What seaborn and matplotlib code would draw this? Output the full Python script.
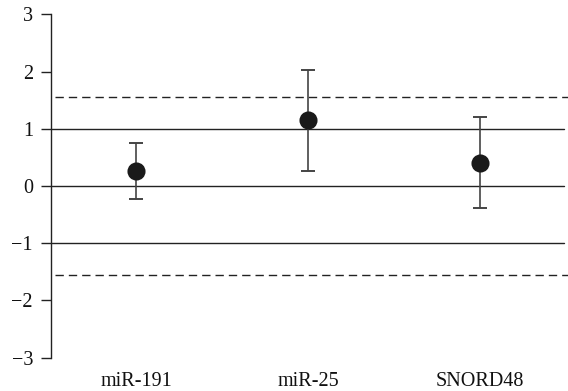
import numpy as np
import matplotlib
matplotlib.use("Agg")
import matplotlib.pyplot as plt
import seaborn as sns

categories = ["miR-191", "miR-25", "SNORD48"]
means = [0.27, 1.15, 0.41]
err_low = [0.49, 0.88, 0.79]
err_high = [0.49, 0.88, 0.80]
solid_levels = [-1, 0, 1]
dashed_levels = [-1.55, 1.55]
yticks = [-3, -2, -1, 0, 1, 2, 3]

sns.set_theme(style="white")
plt.rcParams["font.family"] = ["Liberation Serif", "DejaVu Serif"]

fig = plt.figure(figsize=(5.68, 3.91), dpi=100)
ax = fig.add_axes([51 / 568, (391 - 357.7) / 391, 517 / 568, (357.7 - 14.3) / 391])

for lv in solid_levels:
    ax.axhline(lv, xmin=0, xmax=0.992, color="#222222", lw=1.0, zorder=1)
for lv in dashed_levels:
    ax.axhline(lv, xmin=0.008, xmax=1, color="#222222", lw=1.0,
               linestyle=(0, (6, 3.6)), zorder=1)

xpos = np.arange(len(categories))
ax.errorbar(xpos, means, yerr=[err_low, err_high], fmt="none",
            ecolor="#444444", elinewidth=1.2, capsize=5, capthick=1.4, zorder=2)
sns.pointplot(x=categories, y=means, linestyle="none", marker="o",
              color="#1a1a1a", markersize=11, errorbar=None, ax=ax, zorder=3)

ax.set_xlim(-0.494, 2.512)
ax.set_ylim(-3, 3)
ax.set_yticks(yticks)
ax.set_yticklabels([str(t).replace("-", "\u2212") for t in yticks])
ax.set_xlabel("")
ax.set_ylabel("")

for s in ["top", "right", "bottom"]:
    ax.spines[s].set_visible(False)
ax.spines["left"].set_color("#222222")
ax.spines["left"].set_linewidth(1.0)
ax.tick_params(axis="y", direction="out", length=7, width=1.0, color="#222222",
               pad=6, labelsize=14.5, labelcolor="#111111", left=True)
ax.tick_params(axis="x", length=0, pad=10, labelsize=14.5, labelcolor="#111111")

fig.savefig("out.png", dpi=100)
